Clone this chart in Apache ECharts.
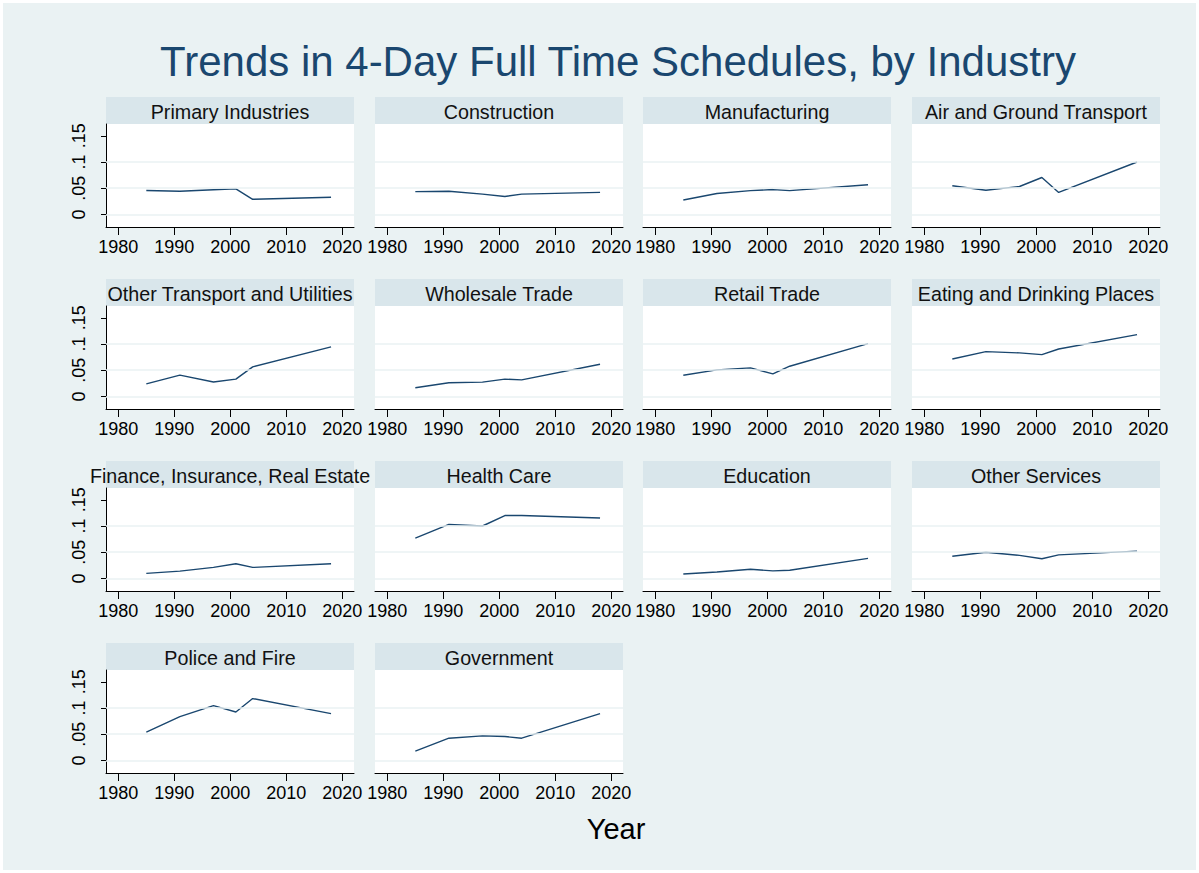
<!DOCTYPE html>
<html>
<head>
<meta charset="utf-8">
<script src="https://cdn.jsdelivr.net/npm/echarts@6/dist/echarts.min.js"></script>
<style>
  html, body { margin: 0; padding: 0; background: #ffffff; }
  #chart { width: 1199px; height: 873px; }
</style>
</head>
<body>
<div id="chart"></div>
<script>
// ---------------- data ----------------
const years = [1985, 1991, 1997, 2001, 2004, 2018];
const xTickValues = [1980, 1990, 2000, 2010, 2020];
const yTickValues = [0, 0.05, 0.1, 0.15];
const yGridValues = [0, 0.05, 0.1];

const chartTitle = 'Trends in 4-Day Full Time Schedules, by Industry';
const xAxisTitle = 'Year';

const panelTitles = [
  'Primary Industries', 'Construction', 'Manufacturing', 'Air and Ground Transport',
  'Other Transport and Utilities', 'Wholesale Trade', 'Retail Trade', 'Eating and Drinking Places',
  'Finance, Insurance, Real Estate', 'Health Care', 'Education', 'Other Services',
  'Police and Fire', 'Government'
];

const primaryIndustries   = [0.0455, 0.0442, 0.0470, 0.0487, 0.0288, 0.0327];
const construction        = [0.0434, 0.0441, 0.0388, 0.0342, 0.0388, 0.0421];
const manufacturing       = [0.0276, 0.0400, 0.0454, 0.0474, 0.0454, 0.0566];
const airGroundTransport  = [0.0546, 0.0460, 0.0533, 0.0704, 0.0420, 0.1000];
const otherTransportUtil  = [0.0238, 0.0406, 0.0275, 0.0331, 0.0563, 0.0944];
const wholesaleTrade      = [0.0165, 0.0260, 0.0272, 0.0330, 0.0316, 0.0614];
const retailTrade         = [0.0405, 0.0506, 0.0544, 0.0430, 0.0576, 0.1006];
const eatingDrinking      = [0.0715, 0.0854, 0.0830, 0.0797, 0.0905, 0.1180];
const financeInsRealEst   = [0.0096, 0.0140, 0.0210, 0.0280, 0.0210, 0.0280];
const healthCare          = [0.0769, 0.1030, 0.1000, 0.1200, 0.1200, 0.1154];
const education           = [0.0084, 0.0123, 0.0175, 0.0143, 0.0156, 0.0383];
const otherServices       = [0.0423, 0.0500, 0.0440, 0.0375, 0.0450, 0.0520];
const policeFire          = [0.0538, 0.0835, 0.1044, 0.0924, 0.1180, 0.0892];
const government          = [0.0177, 0.0424, 0.0468, 0.0456, 0.0424, 0.0892];

const panelValues = [
  primaryIndustries, construction, manufacturing, airGroundTransport,
  otherTransportUtil, wholesaleTrade, retailTrade, eatingDrinking,
  financeInsRealEst, healthCare, education, otherServices,
  policeFire, government
];

// ---------------- layout / style ----------------
const FONT = '"Liberation Sans", Arial, Helvetica, sans-serif';
const BG = '#EAF2F3';
const BAND = '#D9E6EB';
const LINE = '#1A476F';
const colLeft = [106, 375, 643, 912];
const rowTop = [124, 306, 488, 670];
const PW = 248, PH = 103, BANDH = 27;

const grids = [], xAxes = [], yAxes = [], series = [], graphics = [];

graphics.push({ type: 'rect', silent: true, z: -10, shape: { x: 3, y: 3, width: 1193, height: 867 }, style: { fill: BG } });

panelTitles.forEach((name, i) => {
  const r = Math.floor(i / 4), c = i % 4;
  const left = colLeft[c], top = rowTop[r];
  grids.push({ left: left, top: top, width: PW, height: PH, backgroundColor: '#ffffff', show: true, borderWidth: 0 });
  xAxes.push({
    gridIndex: i, type: 'value', min: 1977.8, max: 2022.1,
    axisLine: { show: true, onZero: false, lineStyle: { color: '#000000', width: 1 } },
    axisTick: { show: true, length: 8, customValues: xTickValues, lineStyle: { color: '#000000' } },
    axisLabel: { show: true, customValues: xTickValues, fontSize: 18, fontFamily: FONT, color: '#000000', margin: 11,
      formatter: v => String(Math.round(v)) },
    splitLine: { show: false }
  });
  const firstCol = c === 0;
  yAxes.push({
    gridIndex: i, type: 'value', min: -0.024, max: 0.1725,
    axisLine: { show: firstCol, onZero: false, lineStyle: { color: '#000000', width: 1 } },
    axisTick: { show: firstCol, length: 5, customValues: yTickValues, lineStyle: { color: '#000000' } },
    axisLabel: {
      show: firstCol, customValues: yTickValues, rotate: 90, fontSize: 18, fontFamily: FONT, color: '#000000', margin: 18,
      formatter: v => (Math.abs(v) < 1e-9 ? '0' : String(+v.toFixed(3)).replace(/^0/, ''))
    },
    splitLine: { show: false }
  });
  // light grid lines at 0, .05, .1 (drawn through the y scale)
  series.push({
    type: 'line', xAxisIndex: i, yAxisIndex: i, data: [], silent: true, z: 1,
    markLine: {
      silent: true, symbol: 'none', label: { show: false }, animation: false,
      lineStyle: { color: BG, width: 1.5, type: 'solid' },
      data: yGridValues.map(v => ({ yAxis: v }))
    }
  });
  series.push({
    type: 'line', name: name, xAxisIndex: i, yAxisIndex: i, z: 3,
    data: years.map((y, k) => [y, panelValues[i][k]]),
    showSymbol: false, symbol: 'none', smooth: false,
    lineStyle: { color: LINE, width: 1.4 }, animation: false
  });
  graphics.push({ type: 'rect', silent: true, z: 0, shape: { x: left, y: top - BANDH, width: PW, height: BANDH }, style: { fill: BAND } });
  graphics.push({ type: 'text', silent: true, z: 1, x: left + PW / 2, y: top - BANDH / 2 + 1,
    style: { text: name, fill: '#111111', font: '19.7px ' + FONT, textAlign: 'center', textVerticalAlign: 'middle' } });
});

graphics.push({ type: 'text', silent: true, z: 5, x: 618, y: 61,
  style: { text: chartTitle, fill: LINE, font: '42px ' + FONT, textAlign: 'center', textVerticalAlign: 'middle' } });
graphics.push({ type: 'text', silent: true, z: 5, x: 616, y: 829,
  style: { text: xAxisTitle, fill: '#000000', font: '29px ' + FONT, textAlign: 'center', textVerticalAlign: 'middle' } });

const chart = echarts.init(document.getElementById('chart'), null, { renderer: 'svg' });
chart.setOption({
  backgroundColor: '#ffffff',
  animation: false,
  grid: grids,
  xAxis: xAxes,
  yAxis: yAxes,
  series: series,
  graphic: { elements: graphics }
});
</script>
</body>
</html>
